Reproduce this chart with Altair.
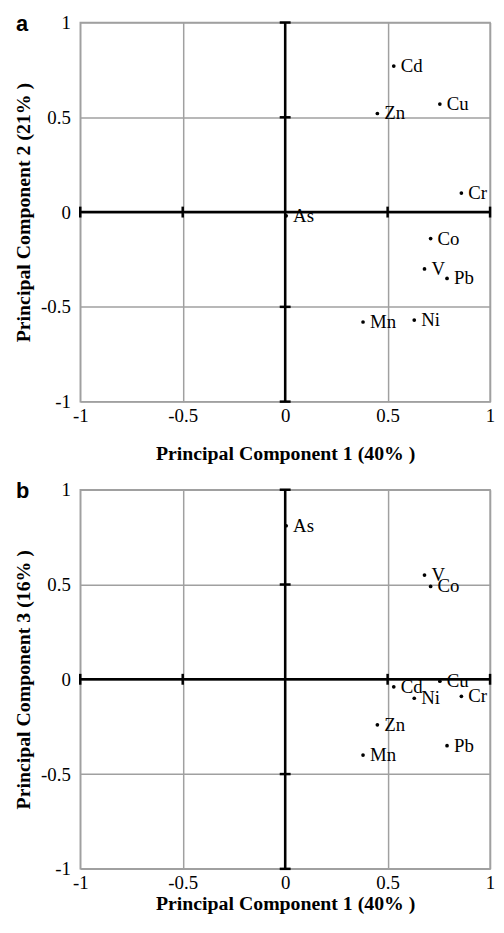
import altair as alt
import pandas as pd

elements = ["Cd", "Cu", "Zn", "Cr", "As", "Co", "V", "Pb", "Mn", "Ni"]
pc1 = [0.53, 0.755, 0.45, 0.86, 0.005, 0.71, 0.68, 0.79, 0.38, 0.63]
pc2 = [0.77, 0.57, 0.52, 0.10, -0.02, -0.14, -0.30, -0.35, -0.58, -0.57]
pc3 = [-0.04, -0.01, -0.24, -0.09, 0.81, 0.49, 0.55, -0.35, -0.40, -0.10]

tick_values = [-1, -0.5, 0, 0.5, 1]
cross_ticks = [-1, -0.5, 0.5, 1]

SERIF = "Liberation Serif"


def panel(yvals, ytitle, letter, xtitle_pad, letter_y):
    df = pd.DataFrame({"el": elements, "x": pc1, "y": yvals})
    scale = alt.Scale(domain=[tick_values[0], tick_values[-1]], nice=False, zero=False)
    xax = alt.Axis(values=tick_values, labelExpr="'' + datum.value", grid=True,
                   domain=False, ticks=False, labelFlush=False, labelPadding=5,
                   title="Principal Component 1 (40% )", titlePadding=xtitle_pad)
    yax = alt.Axis(values=tick_values, labelExpr="'' + datum.value", grid=True,
                   domain=False, ticks=False, labelFlush=False, labelPadding=10,
                   title=ytitle, titlePadding=7)

    def X(f):
        return alt.X(f, type="quantitative", scale=scale, axis=xax)

    def Y(f):
        return alt.Y(f, type="quantitative", scale=scale, axis=yax)

    cross_df = pd.DataFrame({"zero": [0], "lo": [tick_values[0]], "hi": [tick_values[-1]]})
    tick_df = pd.DataFrame({"t": cross_ticks, "zero": [0] * len(cross_ticks)})

    vrule = alt.Chart(cross_df).mark_rule(color="black", strokeWidth=2.5).encode(
        x=X("zero"), y=Y("lo"), y2="hi")
    hrule = alt.Chart(cross_df).mark_rule(color="black", strokeWidth=2.5).encode(
        y=Y("zero"), x=X("lo"), x2="hi")
    vticks = alt.Chart(tick_df).mark_tick(orient="horizontal", color="black", size=11,
                                          thickness=2.5, opacity=1).encode(x=X("zero"), y=Y("t"))
    hticks = alt.Chart(tick_df).mark_tick(orient="vertical", color="black", size=11,
                                          thickness=2.5, opacity=1).encode(x=X("t"), y=Y("zero"))

    pts = alt.Chart(df).mark_circle(size=14, color="black", opacity=1).encode(x=X("x"), y=Y("y"))
    lbl = alt.Chart(df).mark_text(align="left", baseline="middle", dx=7, font=SERIF,
                                  fontSize=19, color="black").encode(x=X("x"), y=Y("y"), text="el:N")
    let = alt.Chart(pd.DataFrame({"letter": [letter]})).mark_text(
        font="Liberation Sans", fontWeight="bold", fontSize=22, align="left",
        baseline="top", color="black").encode(
        x=alt.value(-65), y=alt.value(letter_y), text="letter:N")

    return alt.layer(vrule, hrule, vticks, hticks, pts, lbl, let).properties(width=414, height=383)


pa = panel(pc2, "Principal Component 2 (21% )", "a", 18, -8)
pb = panel(pc3, "Principal Component 3 (16% )", "b", 1, -9)

chart = alt.vconcat(pa, pb, spacing=15).properties(
    padding={"left": 5, "top": 0, "right": 0, "bottom": 0}
).configure_view(stroke="#a0a0a0", strokeWidth=1.5).configure_axis(
    gridColor="#a0a0a0", gridWidth=1.5, gridOpacity=1,
    labelFont=SERIF, labelFontSize=19, labelColor="black",
    titleFont=SERIF, titleFontSize=20, titleFontWeight="bold", titleColor="black",
)

chart.save("out.html", embed_options={"renderer": "svg", "actions": False})
